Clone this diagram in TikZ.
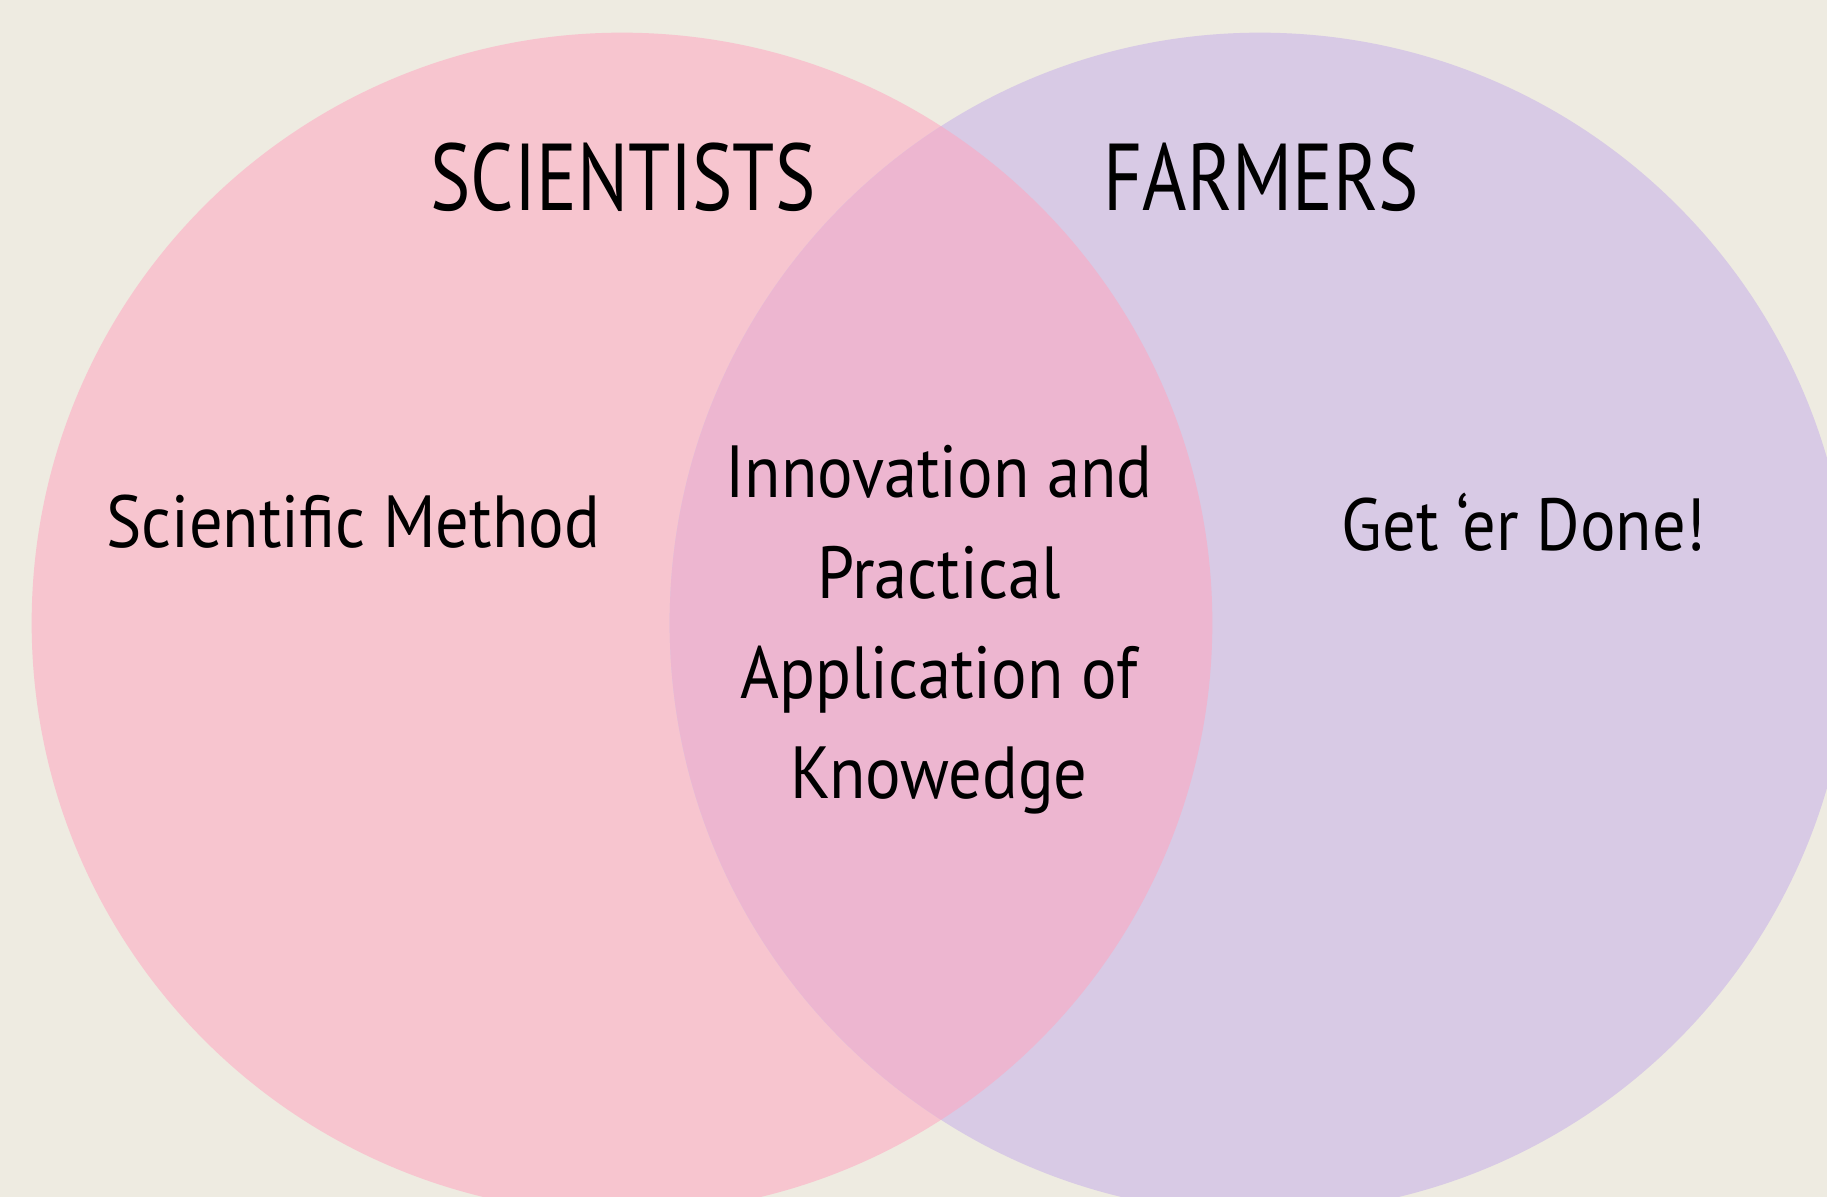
\documentclass[tikz,border=0pt]{standalone}
\usepackage{fontspec}
\setmainfont[FakeStretch=0.8]{PT Sans}
\newfontfamily\bodyfont[FakeStretch=0.9]{PT Sans}
\definecolor{bgcol}{RGB}{238,235,225}
\definecolor{scicol}{RGB}{247,197,207}
\definecolor{farmcol}{RGB}{216,202,229}
\definecolor{bothcol}{RGB}{237,182,208}
\tikzset{
  venntitle/.style={font=\fontsize{27}{32}\selectfont, text=black, inner sep=0pt},
  venntext/.style={font=\bodyfont\fontsize{21}{28.5}\selectfont, text=black, inner sep=0pt, align=center}
}
\begin{document}
\begin{tikzpicture}[x=0.01cm,y=-0.01cm]
  \pgfmathsetmacro\lcx{622}
  \pgfmathsetmacro\rcx{1260}
  \pgfmathsetmacro\cy{623}
  \def\rad{5.9cm}

% page
  \fill[bgcol] (0,0) rectangle (1827,1197);
  \useasboundingbox (0,0) rectangle (1827,1197);

% the two sets
  \fill[scicol] (\lcx,\cy) circle[radius=\rad];
  \fill[farmcol] (\rcx,\cy) circle[radius=\rad];
% overlap
  \begin{scope}
    \clip (\lcx,\cy) circle[radius=\rad];
    \fill[bothcol] (\rcx,\cy) circle[radius=\rad];
  \end{scope}

% headings
  \node[venntitle] (sci) at (623,177) {SCIENTISTS};
  \node[venntitle] (farm) at (1261,177) {FARMERS};

% contents
  \node[venntext] (method) at (353,522) {Scientific Method};
  \node[venntext] (done) at (1524,522) {Get ‘er Done!};
  \node[venntext] (both) at (939,630) {Innovation and\\Practical\\Application of\\Knowedge};

\end{tikzpicture}
\end{document}
